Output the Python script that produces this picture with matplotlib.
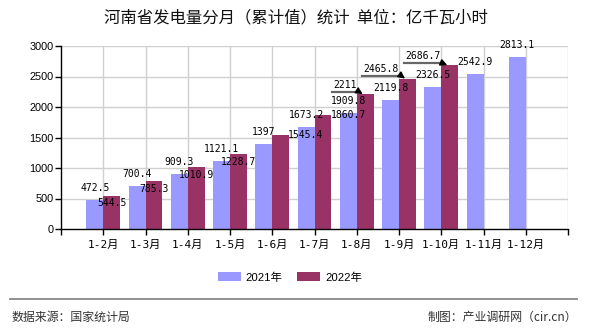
import matplotlib
matplotlib.use('Agg')
import matplotlib.pyplot as plt
import matplotlib.transforms as mtransforms
import numpy as np
from matplotlib.lines import Line2D

# ---------------- data ----------------
categories = ['1-2月', '1-3月', '1-4月', '1-5月', '1-6月', '1-7月',
              '1-8月', '1-9月', '1-10月', '1-11月', '1-12月']
values_2021 = [472.5, 700.4, 909.3, 1121.1, 1397, 1673.2, 1909.8,
               2119.8, 2326.5, 2542.9, 2813.1]
values_2022 = [544.5, 785.3, 1010.9, 1228.7, 1545.4, 1860.7, 2211,
               2465.8, 2686.7]
series_names = ['2021年', '2022年']
y_ticks = [0, 500, 1000, 1500, 2000, 2500, 3000]
title = '河南省发电量分月（累计值）统计  单位：亿千瓦小时'
source_text = '数据来源：国家统计局'
credit_text = '制图：产业调研网（cir.cn）'

# ---------------- style ----------------
C21 = '#9999ff'
C22 = '#993366'
GRID = '#d0d0d0'
PX = 0.72  # points per pixel at dpi 100
CJK = 'Noto Sans CJK SC'
LABEL_FONT = ['DejaVu Sans Mono', CJK]

fig = plt.figure(figsize=(5.9, 3.3), dpi=100)
W, H = 590, 330
ax = fig.add_axes([61 / W, 1 - 229 / H, 507 / W, 183 / H])

x = np.arange(len(categories))
x22 = np.arange(len(values_2022))
bw = 0.4
b21 = ax.bar(x - bw / 2, values_2021, width=bw, color=C21, zorder=2)
b22 = ax.bar(x22 + bw / 2, values_2022, width=bw, color=C22, zorder=2)

ax.set_xlim(-1, len(categories))
ax.set_ylim(0, 3000)
ax.set_yticks(y_ticks)
ax.set_yticklabels([str(t) for t in y_ticks], fontsize=7.8,
                   family=['Liberation Sans'])
ticks = list(range(-1, len(categories) + 1))
ax.set_xticks(ticks)
ax.set_xticklabels([''] + categories + [''], fontsize=8, family=LABEL_FONT)
ax.tick_params(axis='both', direction='out', length=4, width=1, color='black')
ax.tick_params(axis='x', pad=3.5)
ax.tick_params(axis='y', pad=1.5)

# grid
for t in y_ticks[1:]:
    ax.axhline(t, color=GRID, lw=1.0, zorder=0)
for t in list(x) + [len(categories)]:
    ax.axvline(t, color=GRID, lw=1.0, zorder=0)
for s in ['top', 'right']:
    ax.spines[s].set_visible(False)
ax.spines['left'].set_color('black')
ax.spines['bottom'].set_color('black')
ax.spines['left'].set_linewidth(1.0)
ax.spines['bottom'].set_linewidth(1.0)

# value labels 2021
for i, v in enumerate(values_2021):
    ax.annotate(f'{v:g}', xy=(i - bw / 2, v), xytext=(0, 12 * PX),
                textcoords='offset points', ha='center', va='center',
                fontsize=7, family=LABEL_FONT, zorder=5)

# value labels 2022 (offsets in pixels, relative to bar centre top)
simple_offsets = {0: (0, -7.5), 1: (0, -8), 2: (0, -7.5), 3: (0, -7.5),
                  4: (24.5, 0), 5: (26, 0)}
for i, (dx, dy) in simple_offsets.items():
    v = values_2022[i]
    ax.annotate(f'{v:g}', xy=(i + bw / 2, v), xytext=(dx * PX, dy * PX),
                textcoords='offset points', ha='center', va='center',
                fontsize=7, family=LABEL_FONT, zorder=5)

# callout labels with leader arrows (pixel offsets relative to bar left/top)
callouts = {6: ((-12, 9), (-25, 2.5), (2, 2.5)),
            7: ((-18, 10), (-37, 3), (2, 3)),
            8: ((-18, 9), (-37, 2.5), (0, 2.5))}
for i, ((tx, ty), (lx, ly), (ex, ey)) in callouts.items():
    v = values_2022[i]
    ax.annotate(f'{v:g}', xy=(i, v), xytext=(tx * PX, ty * PX),
                textcoords='offset points', ha='center', va='center',
                fontsize=7, family=LABEL_FONT, zorder=5)
    start_tr = mtransforms.offset_copy(ax.transData, fig=fig,
                                       x=lx, y=ly, units='dots')
    end_tr = mtransforms.offset_copy(ax.transData, fig=fig,
                                     x=ex, y=ey, units='dots')
    sx, sy = start_tr.transform((i, v))
    exx, eyy = end_tr.transform((i, v))
    ax.add_artist(Line2D([sx, exx], [sy, eyy], transform=None,
                         color='#666666', lw=1.6, zorder=5))
    tip_tr = mtransforms.offset_copy(ax.transData, fig=fig,
                                     x=6, y=0, units='dots')
    ax.annotate('', xy=(i, v), xycoords=tip_tr,
                xytext=(i, v), textcoords=end_tr,
                arrowprops=dict(arrowstyle='-|>', color='black', lw=1.0,
                                mutation_scale=10, shrinkA=0, shrinkB=0),
                zorder=6)

# title
fig.text(296 / W, 1 - 18 / H, title, ha='center', va='center',
         fontsize=11.8, family=[CJK], color='#111111')

# legend
fig.legend([b21, b22], series_names, loc='center',
           bbox_to_anchor=(290 / W, 1 - 277.5 / H), ncol=2, frameon=False,
           prop={'family': ['Liberation Sans', CJK], 'size': 8.2},
           handlelength=2.0, handleheight=0.8, handletextpad=0.45,
           columnspacing=1.3)

# separator and footer
fig.add_artist(Line2D([10 / W, 577 / W], [1 - 299 / H, 1 - 299 / H],
                      color='#888888', lw=1.3, transform=fig.transFigure))
fig.text(11 / W, 1 - 317 / H, source_text, ha='left', va='center',
         fontsize=8.6, family=[CJK], color='#333333')
fig.text(577 / W, 1 - 317 / H, credit_text, ha='right', va='center',
         fontsize=8.6, family=[CJK, 'DejaVu Sans'], color='#333333')

fig.savefig('out.png', dpi=100)
